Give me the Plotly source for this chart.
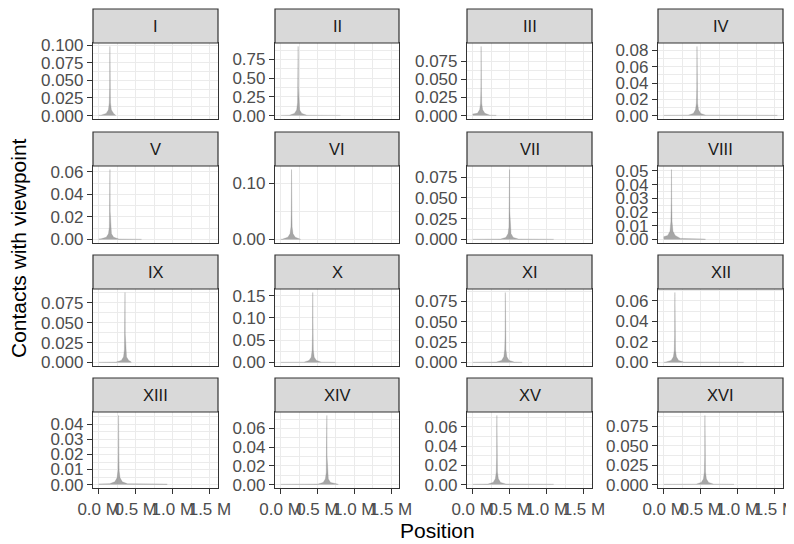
import plotly.graph_objects as go

# ---------------- data (positions in kb, contacts with viewpoint) ----------------
chromosomes = ["I", "II", "III", "IV", "V", "VI", "VII", "VIII",
               "IX", "X", "XI", "XII", "XIII", "XIV", "XV", "XVI"]

pos_I = [0, 31, 101, 131, 143, 148, 151, 154, 159, 171, 201, 230]
val_I = [0.0003, 0.0005, 0.003, 0.008, 0.018, 0.040, 0.098, 0.040, 0.018, 0.008, 0.003, 0.0003]
pos_II = [0, 118, 188, 218, 230, 235, 238, 241, 246, 258, 288, 358, 813]
val_II = [0.002, 0.004, 0.028, 0.075, 0.17, 0.38, 0.925, 0.38, 0.17, 0.075, 0.028, 0.004, 0.002]
pos_III = [0, 64, 94, 106, 111, 114, 117, 122, 134, 164, 234, 317]
val_III = [0.002, 0.003, 0.008, 0.017, 0.038, 0.095, 0.038, 0.017, 0.008, 0.003, 0.0005, 0.0003]
pos_IV = [0, 329, 399, 429, 441, 446, 449, 452, 457, 469, 499, 569, 1532]
val_IV = [0.0003, 0.0005, 0.0025, 0.007, 0.015, 0.034, 0.085, 0.034, 0.015, 0.007, 0.0025, 0.0005, 0.0003]
pos_V = [0, 32, 102, 132, 144, 149, 152, 155, 160, 172, 202, 272, 577]
val_V = [0.0004, 0.0006, 0.002, 0.005, 0.011, 0.025, 0.062, 0.025, 0.011, 0.005, 0.002, 0.0004, 0.0002]
pos_VI = [0, 28, 98, 128, 140, 145, 148, 151, 156, 168, 198, 270]
val_VI = [0.0004, 0.0007, 0.004, 0.010, 0.022, 0.050, 0.124, 0.050, 0.022, 0.010, 0.004, 0.0004]
pos_VII = [0, 377, 447, 477, 489, 494, 497, 500, 505, 517, 547, 617, 1091]
val_VII = [0.0003, 0.0005, 0.0025, 0.007, 0.015, 0.034, 0.084, 0.034, 0.015, 0.007, 0.0025, 0.0005, 0.0003]
pos_VIII = [0, 55, 85, 97, 102, 105, 108, 113, 125, 155, 225, 563]
val_VIII = [0.002, 0.003, 0.006, 0.013, 0.028, 0.051, 0.028, 0.013, 0.006, 0.003, 0.0008, 0.0003]
pos_IX = [0, 235, 305, 335, 347, 352, 355, 358, 363, 375, 405, 440]
val_IX = [0.0003, 0.0005, 0.0026, 0.007, 0.016, 0.036, 0.088, 0.036, 0.016, 0.007, 0.0026, 0.0005]
pos_X = [0, 316, 386, 416, 428, 433, 436, 439, 444, 456, 486, 556, 746]
val_X = [0.0005, 0.0008, 0.0045, 0.012, 0.028, 0.063, 0.157, 0.063, 0.028, 0.012, 0.0045, 0.0008, 0.0005]
pos_XI = [0, 320, 390, 420, 432, 437, 440, 443, 448, 460, 490, 560, 667]
val_XI = [0.0003, 0.0005, 0.0026, 0.007, 0.016, 0.035, 0.086, 0.035, 0.016, 0.007, 0.0026, 0.0005, 0.0003]
pos_XII = [0, 31, 101, 131, 143, 148, 151, 154, 159, 171, 201, 271, 1078]
val_XII = [0.0003, 0.0005, 0.002, 0.0055, 0.012, 0.027, 0.068, 0.027, 0.012, 0.0055, 0.002, 0.0004, 0.0002]
pos_XIII = [0, 148, 218, 248, 260, 265, 268, 271, 276, 288, 318, 388, 924]
val_XIII = [0.0004, 0.0006, 0.0018, 0.0045, 0.009, 0.019, 0.046, 0.019, 0.009, 0.0045, 0.0018, 0.0005, 0.0003]
pos_XIV = [0, 508, 578, 608, 620, 625, 628, 631, 636, 648, 678, 748, 784]
val_XIV = [0.0003, 0.0005, 0.0022, 0.006, 0.013, 0.030, 0.074, 0.030, 0.013, 0.006, 0.0022, 0.0005, 0.0003]
pos_XV = [0, 206, 276, 306, 318, 323, 326, 329, 334, 346, 376, 446, 1091]
val_XV = [0.0003, 0.0005, 0.0022, 0.006, 0.013, 0.029, 0.072, 0.029, 0.013, 0.006, 0.0022, 0.0005, 0.0003]
pos_XVI = [0, 436, 506, 536, 548, 553, 556, 559, 564, 576, 606, 676, 948]
val_XVI = [0.0003, 0.0005, 0.0027, 0.007, 0.016, 0.036, 0.089, 0.036, 0.016, 0.007, 0.0027, 0.0005, 0.0003]

# y tick labels per panel
yt_I = ["0.000", "0.025", "0.050", "0.075", "0.100"]
yt_II = ["0.00", "0.25", "0.50", "0.75"]
yt_III = ["0.000", "0.025", "0.050", "0.075"]
yt_IV = ["0.00", "0.02", "0.04", "0.06", "0.08"]
yt_V = ["0.00", "0.02", "0.04", "0.06"]
yt_VI = ["0.00", "0.10"]
yt_VII = ["0.000", "0.025", "0.050", "0.075"]
yt_VIII = ["0.00", "0.01", "0.02", "0.03", "0.04", "0.05"]
yt_IX = ["0.000", "0.025", "0.050", "0.075"]
yt_X = ["0.00", "0.05", "0.10", "0.15"]
yt_XI = ["0.000", "0.025", "0.050", "0.075"]
yt_XII = ["0.00", "0.02", "0.04", "0.06"]
yt_XIII = ["0.00", "0.01", "0.02", "0.03", "0.04"]
yt_XIV = ["0.00", "0.02", "0.04", "0.06"]
yt_XV = ["0.00", "0.02", "0.04", "0.06"]
yt_XVI = ["0.000", "0.025", "0.050", "0.075"]

# x ticks (kb)
x_tick_vals = [0, 500, 1000, 1500]
x_tick_text = ["0.0 M", "0.5 M", "1.0 M", "1.5 M"]

positions = [pos_I, pos_II, pos_III, pos_IV, pos_V, pos_VI, pos_VII, pos_VIII,
             pos_IX, pos_X, pos_XI, pos_XII, pos_XIII, pos_XIV, pos_XV, pos_XVI]
values = [val_I, val_II, val_III, val_IV, val_V, val_VI, val_VII, val_VIII,
          val_IX, val_X, val_XI, val_XII, val_XIII, val_XIV, val_XV, val_XVI]
yticks = [yt_I, yt_II, yt_III, yt_IV, yt_V, yt_VI, yt_VII, yt_VIII,
          yt_IX, yt_X, yt_XI, yt_XII, yt_XIII, yt_XIV, yt_XV, yt_XVI]

# ---------------- layout geometry (screen pixels) ----------------
OFF = 8                      # page body margin
W, H = 794 - OFF, 544 - OFF  # figure size so it ends at the window edge
col_px = [(93, 218), (275, 399), (467, 592), (658, 783)]
row_px = [(43, 119), (166, 243), (289, 366), (412, 488)]
strip_h = 34


def fx(px):
    return (px - OFF) / W


def fy(py):
    return 1 - (py - OFF) / H


FONT = "Liberation Sans, Arial, Helvetica, sans-serif"
GRID = "#EBEBEB"
BORDER = "#333333"
TICK_SIZE = 17

fig = go.Figure()

xmax = max(max(p) for p in positions)
xrange = [-0.05 * xmax, 1.05 * xmax]

shapes = []
annotations = []

for i, name in enumerate(chromosomes):
    r, c = divmod(i, 4)
    k = i + 1
    xa = "x" if k == 1 else f"x{k}"
    ya = "y" if k == 1 else f"y{k}"
    fig.add_trace(go.Scatter(
        x=positions[i], y=values[i], mode="lines", fill="tozeroy",
        line=dict(color="rgba(125,125,125,0.5)", width=0.5),
        fillcolor="rgba(150,150,150,0.85)",
        xaxis=xa, yaxis=ya, showlegend=False, hoverinfo="skip"))

    x0, x1 = col_px[c]
    y0, y1 = row_px[r]
    xd = [fx(x0), fx(x1)]
    yd = [fy(y1), fy(y0)]

    vmax = max(values[i])
    yr = [-0.05 * vmax, 1.05 * vmax]
    tv = [float(s) for s in yticks[i]]
    step = tv[1] - tv[0]
    minor_vals = [(a + b) / 2 for a, b in zip(tv[:-1], tv[1:])]
    if tv[-1] + step / 2 < yr[1]:
        minor_vals.append(tv[-1] + step / 2)

    bottom = (r == 3)
    xkey = "xaxis" if k == 1 else f"xaxis{k}"
    ykey = "yaxis" if k == 1 else f"yaxis{k}"
    fig.layout[xkey] = dict(
        domain=xd, anchor=ya, range=xrange, automargin=False,
        tickmode="array", tickvals=x_tick_vals, ticktext=x_tick_text,
        showticklabels=bottom, ticks="outside" if bottom else "",
        ticklen=5, tickwidth=1.2, tickcolor=BORDER, tickangle=0,
        ticklabeloverflow="allow",
        tickfont=dict(family=FONT, size=TICK_SIZE, color="#4D4D4D"),
        showgrid=True, gridcolor=GRID, gridwidth=1.4,
        minor=dict(tickmode="array", tickvals=[250, 750, 1250], showgrid=True,
                   gridcolor=GRID, gridwidth=0.7, ticks=""),
        showline=True, mirror=True, linecolor=BORDER, linewidth=1.2,
        zeroline=False, fixedrange=True)
    fig.layout[ykey] = dict(
        domain=yd, anchor=xa, range=yr, automargin=False,
        tickmode="array", tickvals=tv, ticktext=yticks[i],
        ticks="outside", ticklen=5, tickwidth=1.2, tickcolor=BORDER,
        ticklabeloverflow="allow",
        tickfont=dict(family=FONT, size=TICK_SIZE, color="#4D4D4D"),
        showgrid=True, gridcolor=GRID, gridwidth=1.4,
        minor=dict(tickmode="array", tickvals=minor_vals, showgrid=True,
                   gridcolor=GRID, gridwidth=0.7, ticks=""),
        showline=True, mirror=True, linecolor=BORDER, linewidth=1.2,
        zeroline=False, fixedrange=True)

    # strip
    shapes.append(dict(type="rect", xref="paper", yref="paper",
                       x0=fx(x0), x1=fx(x1),
                       y0=fy(y0), y1=fy(y0 - strip_h),
                       fillcolor="#D9D9D9", line=dict(color=BORDER, width=1.2),
                       layer="above"))
    annotations.append(dict(text=name, xref="paper", yref="paper",
                            x=fx((x0 + x1) / 2), y=fy(y0 - strip_h / 2),
                            showarrow=False, xanchor="center", yanchor="middle",
                            font=dict(family=FONT, size=16.5, color="#1A1A1A")))

annotations.append(dict(text="Position", xref="paper", yref="paper",
                        x=fx((93 + 783) / 2), y=fy(530), showarrow=False,
                        xanchor="center", yanchor="middle",
                        font=dict(family=FONT, size=21, color="#000000")))
annotations.append(dict(text="Contacts with viewpoint", xref="paper", yref="paper",
                        x=fx(19), y=fy(248), showarrow=False, textangle=-90,
                        xanchor="center", yanchor="middle",
                        font=dict(family=FONT, size=21, color="#000000")))

fig.update_layout(template="none", width=W, height=H,
                  margin=dict(l=0, r=0, t=0, b=0, autoexpand=False),
                  paper_bgcolor="white", plot_bgcolor="white",
                  shapes=shapes, annotations=annotations, showlegend=False)

fig.write_html("out.html")
